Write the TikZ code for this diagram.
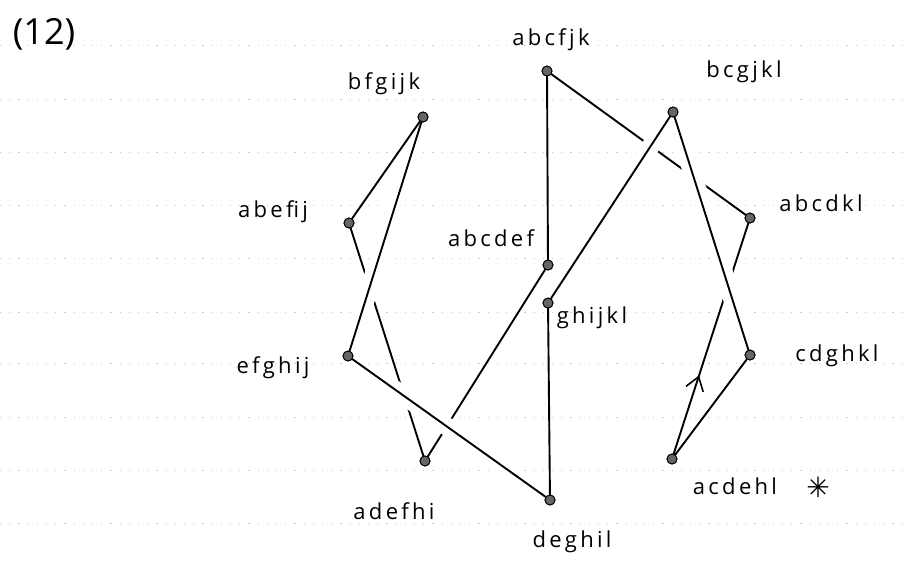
\documentclass[tikz,border=0pt]{standalone}
\usepackage{fontspec}
\setmainfont{Open Sans}
\newfontfamily\labfont{Open Sans}[LetterSpace=15]
\newfontfamily\symfont{DejaVu Sans}
\usetikzlibrary{arrows.meta,decorations.markings}
\begin{document}
\begin{tikzpicture}[x=1pt,y=-1pt,
  vtx/.style={circle, fill=black!60, draw=black, line width=0.9pt, inner sep=0pt, minimum size=10pt},
  lab/.style={font=\labfont\fontsize{22}{24}\selectfont, inner sep=0pt, anchor=center},
  edge/.style={line width=1.9pt, line cap=round},
  over/.style={edge, preaction={draw=white, line width=18pt, line cap=butt, shorten <=16pt, shorten >=16pt}},
  rule/.style={gray!40, line width=0.6pt, dash pattern=on 1.2pt off 8pt}]
\useasboundingbox (0,0) rectangle (905,568);
% faint ruled lines of the notebook page
\foreach \yy in {45,99,152,205,258,312,363,417,470,523}
  \draw[rule] (0,\yy) -- (905,\yy);
% title
\node[font=\fontsize{36}{38}\selectfont, inner sep=0pt] (title) at (44,34) {(12)};
% vertices
\node[vtx] (abcfjk) at (547,71) {};
\node[vtx] (bfgijk) at (423,117) {};
\node[vtx] (bcgjkl) at (673,112) {};
\node[vtx] (abefij) at (349,223) {};
\node[vtx] (abcdef) at (548,265) {};
\node[vtx] (ghijkl) at (548,303) {};
\node[vtx] (abcdkl) at (750,218) {};
\node[vtx] (efghij) at (348,356) {};
\node[vtx] (cdghkl) at (750,355) {};
\node[vtx] (adefhi) at (425,461) {};
\node[vtx] (deghil) at (550,500) {};
\node[vtx] (acdehl) at (672,459) {};
% labels
\node[lab] (l-abcfjk) at (551,40) {abcfjk};
\node[lab] (l-bfgijk) at (384,84) {bfgijk};
\node[lab] (l-bcgjkl) at (744,72) {bcgjkl};
\node[lab] (l-abefij) at (273,212) {abefij};
\node[lab] (l-abcdef) at (491,238) {abcdef};
\node[lab] (l-ghijkl) at (592,318) {ghijkl};
\node[lab] (l-abcdkl) at (821,203) {abcdkl};
\node[lab] (l-efghij) at (273,368) {efghij};
\node[lab] (l-cdghkl) at (837,356) {cdghkl};
\node[lab] (l-adefhi) at (394,511) {adefhi};
\node[lab] (l-deghil) at (572,542) {deghil};
\node[lab] (l-acdehl) at (735,486) {acdehl};
\node[font=\symfont\fontsize{28}{30}\selectfont, inner sep=0pt] (star) at (818,487) {✳};
% edges passing underneath
\draw[edge] (abefij) -- (adefhi);
\draw[edge] (abcdef) -- (adefhi);
\draw[edge] (abcfjk) -- (abcdkl);
\draw[edge, postaction={decorate}, decoration={markings,
  mark=at position 0.34 with {\arrow[line width=1.6pt]{Straight Barb[length=13pt,width=18pt]}}}]
  (acdehl) -- (abcdkl);
% edges passing over
\draw[over] (bfgijk) -- (efghij);
\draw[over] (efghij) -- (deghil);
\draw[over] (bcgjkl) -- (ghijkl);
\draw[over] (bcgjkl) -- (cdghkl);
% other edges
\draw[edge] (bfgijk) -- (abefij);
\draw[edge] (abcfjk) -- (abcdef);
\draw[edge] (ghijkl) -- (deghil);
\draw[edge] (cdghkl) -- (acdehl);
% redraw vertices on top
\foreach \v in {abcfjk,bfgijk,bcgjkl,abefij,abcdef,ghijkl,abcdkl,efghij,cdghkl,adefhi,deghil,acdehl}
  \fill[black!60, draw=black, line width=0.9pt] (\v.center) circle (5pt);
\end{tikzpicture}
\end{document}
